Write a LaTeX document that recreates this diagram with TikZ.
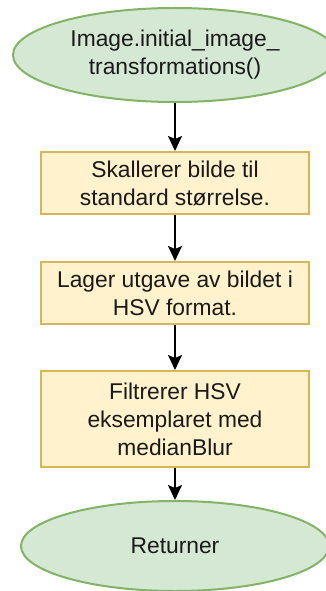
\documentclass[tikz,border=0pt]{standalone}
\usepackage{fontspec}
\setmainfont{Liberation Sans}
\usetikzlibrary{shapes.geometric,arrows.meta}
\definecolor{yfill}{HTML}{FFF2CC}
\definecolor{ystroke}{HTML}{D6B656}
\definecolor{gfill}{HTML}{D5E8D4}
\definecolor{gstroke}{HTML}{82B366}
\definecolor{txt}{HTML}{1A1A1A}
\begin{document}
\begin{tikzpicture}[x=1pt,y=-1pt,
  every node/.style={font=\fontsize{22.8}{28}\selectfont, text=txt, align=center},
  stepbox/.style={draw=ystroke, fill=yfill, line width=2pt, minimum width=268pt, inner sep=0pt},
  term/.style={ellipse, draw=gstroke, fill=gfill, line width=2pt, inner sep=0pt},
  flow/.style={line width=2pt, draw=black, -{Stealth[length=15pt,width=14pt,inset=3pt]}}]
\clip (0,0) rectangle (326,591);
\fill[white] (0,0) rectangle (326,591);
\node[term, minimum width=324pt, minimum height=94pt] (start) at (175,55) {Image.initial\_image\_\\transformations()};
\node[stepbox, minimum height=62pt] (s1) at (175,183) {Skallerer bilde til\\standard størrelse.};
\node[stepbox, minimum height=62pt] (s2) at (175,293) {Lager utgave av bildet i\\HSV format.};
\node[stepbox, minimum height=96pt] (s3) at (175,419) {Filtrerer HSV\\eksemplaret med\\medianBlur};
\node[term, minimum width=308pt, minimum height=90pt] (end) at (175,546) {Returner};
\draw[flow] (start.south) -- (s1.north);
\draw[flow] (s1.south) -- (s2.north);
\draw[flow] (s2.south) -- (s3.north);
\draw[flow] (s3.south) -- (end.north);
\end{tikzpicture}
\end{document}
